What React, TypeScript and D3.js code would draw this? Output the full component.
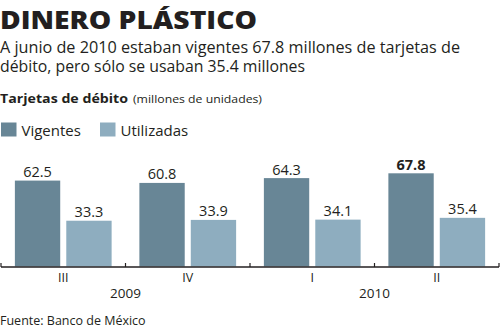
import React from "react";
import * as d3 from "d3";

const quarters = ["III", "IV", "I", "II"];
const years = ["2009", "2009", "2010", "2010"];
const yearLabels = ["2009", "2010"];
const vigentes = [62.5, 60.8, 64.3, 67.8];
const utilizadas = [33.3, 33.9, 34.1, 35.4];
const seriesNames = ["Vigentes", "Utilizadas"];
const colors = ["#688696", "#8eadbf"];

const W = 500;
const H = 328;
const FONT = "'Open Sans', 'DejaVu Sans', sans-serif";

export default function App() {
  const baseY = 266.5;
  const x0 = d3.scaleBand<string>().domain(quarters).range([1, 499]).paddingInner(0).paddingOuter(0);
  const x1 = d3
    .scaleBand<string>()
    .domain(seriesNames)
    .range([0, x0.bandwidth()])
    .paddingInner(0.118)
    .paddingOuter(0.27);
  const y = d3.scaleLinear().domain([0, 67.8]).range([baseY, 173.3]);
  const vals = [vigentes, utilizadas];

  return (
    <svg
      width={W}
      height={H}
      style={{ position: "absolute", left: 0, top: 0, background: "#fff" }}
      fontFamily={FONT}
    >
      <text x={0} y={28.5} fontSize={25.5} fontWeight={800} fill="#231f20" textLength={257} lengthAdjust="spacingAndGlyphs">
        DINERO PLÁSTICO
      </text>
      <text x={0} y={52.7} fontSize={17} fill="#231f20" textLength={460} lengthAdjust="spacingAndGlyphs">
        A junio de 2010 estaban vigentes 67.8 millones de tarjetas de
      </text>
      <text x={0} y={71.7} fontSize={17} fill="#231f20" textLength={305} lengthAdjust="spacingAndGlyphs">
        débito, pero sólo se usaban 35.4 millones
      </text>
      <text x={0} y={102.7} fontSize={13} fontWeight={700} fill="#231f20" textLength={128} lengthAdjust="spacingAndGlyphs">
        Tarjetas de débito
      </text>
      <text x={133} y={102.7} fontSize={11.5} fill="#231f20" textLength={129} lengthAdjust="spacingAndGlyphs">
        (millones de unidades)
      </text>
      {seriesNames.map((s, i) => (
        <g key={s} transform={`translate(${i === 0 ? 1 : 100},122.5)`}>
          <rect width={15.5} height={14} fill={colors[i]} />
          <text x={20.5} y={13} fontSize={15} fill="#231f20">
            {s}
          </text>
        </g>
      ))}
      {quarters.map((q, qi) => (
        <g key={q} transform={`translate(${x0(q)},0)`}>
          {seriesNames.map((s, si) => {
            const v = vals[si][qi];
            const bx = x1(s)!;
            const bold = qi === 3 && si === 0;
            return (
              <g key={s}>
                <rect x={bx} y={y(v)} width={x1.bandwidth()} height={baseY - y(v)} fill={colors[si]} />
                <text
                  x={bx + x1.bandwidth() / 2}
                  y={y(v) - 3.5}
                  textAnchor="middle"
                  fontSize={14.5}
                  fontWeight={bold ? 700 : 400}
                  fill="#231f20"
                >
                  {v.toFixed(1)}
                </text>
              </g>
            );
          })}
          <text x={x0.bandwidth() / 2} y={282} textAnchor="middle" fontSize={12.5} fill="#231f20">
            {q}
          </text>
        </g>
      ))}
      <line x1={1} x2={499} y1={267} y2={267} stroke="#231f20" strokeWidth={1.3} />
      {[0, 1, 2, 3, 4].map((i) => {
        const xx = i < 4 ? x0(quarters[i])! : 499;
        return <line key={i} x1={xx} x2={xx} y1={263} y2={267} stroke="#231f20" strokeWidth={1.2} />;
      })}
      {yearLabels.map((yr) => {
        const idx = years.indexOf(yr);
        const cx = x0(quarters[idx])! + x0.bandwidth();
        return (
          <text key={yr} x={cx} y={297.5} textAnchor="middle" fontSize={13.5} fill="#231f20">
            {yr}
          </text>
        );
      })}
      <text x={0} y={325} fontSize={12.5} fill="#231f20">
        Fuente: Banco de México
      </text>
    </svg>
  );
}
